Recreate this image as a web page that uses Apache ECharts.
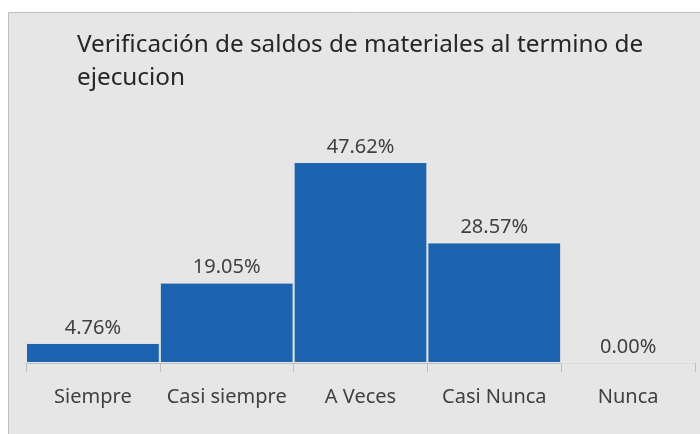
<!DOCTYPE html>
<html>
<head>
<meta charset="utf-8">
<script src="https://cdn.jsdelivr.net/npm/echarts@6/dist/echarts.min.js"></script>
<style>
html,body{margin:0;padding:0;background:#ffffff;}
#c{width:700px;height:434px;}
</style>
</head>
<body>
<div id="c"></div>
<script>
const titleText = 'Verificación de saldos de materiales al termino de\nejecucion';
const categories = ['Siempre', 'Casi siempre', 'A Veces', 'Casi Nunca', 'Nunca'];
const values = [4.76, 19.05, 47.62, 28.57, 0.00];

const chart = echarts.init(document.getElementById('c'), null, {renderer: 'canvas'});
const FONT = 'Noto Sans';
chart.setOption({
  backgroundColor: '#ffffff',
  animation: false,
  graphic: [{
    type: 'rect',
    z: -10,
    shape: {x: 8.5, y: 12.5, width: 700, height: 430},
    style: {fill: '#e7e6e6', stroke: '#bfbfbf', lineWidth: 1}
  }],
  title: {
    text: titleText,
    left: 77,
    top: 29,
    padding: 0,
    textStyle: {fontFamily: FONT, fontSize: 24.3, fontWeight: 'normal', color: '#262626', lineHeight: 33}
  },
  grid: {left: 26, right: 5, top: 152, bottom: 71},
  xAxis: {
    type: 'category',
    data: categories,
    axisLine: {lineStyle: {color: '#bfbfbf', width: 1}},
    axisTick: {show: true, length: 9, lineStyle: {color: '#bfbfbf'}},
    axisLabel: {fontFamily: FONT, fontSize: 20, color: '#404040', margin: 24, interval: 0}
  },
  yAxis: {
    type: 'value',
    min: 0,
    max: 50,
    show: false,
    splitLine: {show: false}
  },
  series: [{
    type: 'bar',
    data: values,
    barCategoryGap: '0%',
    itemStyle: {color: '#1c64b0', borderColor: '#e7e6e6', borderWidth: 1},
    label: {
      show: true,
      position: 'top',
      distance: 5,
      fontFamily: FONT,
      fontSize: 20,
      color: '#404040',
      formatter: p => p.value.toFixed(2) + '%'
    }
  }]
});
</script>
</body>
</html>
